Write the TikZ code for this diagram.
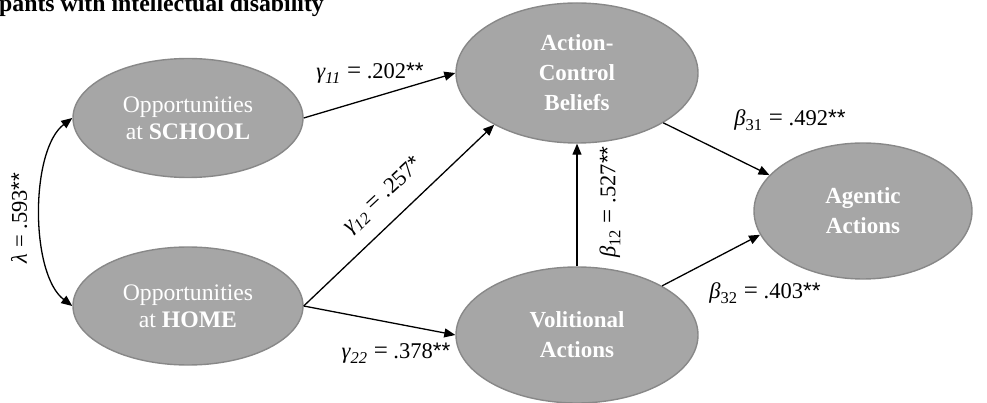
\documentclass[tikz,border=0pt]{standalone}
\usepackage{fontspec}
\setmainfont{Liberation Serif}
\setsansfont{Liberation Sans}
\usetikzlibrary{shapes.geometric,arrows.meta}
\definecolor{ellfill}{HTML}{A6A6A6}
\definecolor{elldraw}{HTML}{888888}
\tikzset{
  latent/.style={ellipse, draw=elldraw, fill=ellfill, line width=1.4pt, inner sep=0pt,
    text=white, align=center, font=\fontsize{23.7}{27}\selectfont},
  latentb/.style={latent, font=\fontsize{23}{30}\selectfont\bfseries},
  path/.style={line width=1.3pt, -{Triangle[length=11pt,width=9pt]}},
  coef/.style={font=\fontsize{22.5}{24}\selectfont, inner sep=1pt}
}
\newcommand{\coefl}[4]{{\itshape #1}\raisebox{-0.22em}{\fontsize{16.5}{16}\selectfont #2}\hspace{0.3em}{\fontsize{25}{24}\selectfont =}\hspace{0.25em}#3{\sffamily #4}}
\begin{document}
\begin{tikzpicture}[x=1pt,y=-1pt]
\useasboundingbox (0,0) rectangle (987,403);
\node[anchor=base west, inner sep=0pt, font=\fontsize{23.8}{26}\selectfont\bfseries] (title) at (-1,12) {pants with intellectual disability};

\node[latent, minimum width=230pt, minimum height=119pt] (school) at (188,118) {Opportunities\\at \textbf{SCHOOL}};
\node[latent, minimum width=230pt, minimum height=118pt] (home) at (188,306) {Opportunities\\at \textbf{HOME}};
\node[latentb, minimum width=242pt, minimum height=140pt] (acb) at (577,73) {Action-\\Control\\Beliefs};
\node[latentb, minimum width=242pt, minimum height=136pt] (vol) at (577,335) {Volitional\\Actions};
\node[latentb, minimum width=218pt, minimum height=136pt] (agent) at (863,211) {Agentic\\Actions};

\draw[path] (school.east) -- (acb.west);
\draw[path] (home.east) -- (acb.212);
\draw[path] (home.east) -- (vol.west);
\draw[path] (vol.north) -- (acb.south);
\draw[path] (acb.-30) -- (agent.159);
\draw[path] (vol.30) -- (agent.193);
\draw[line width=1.3pt, {Triangle[length=11pt,width=9pt]}-{Triangle[length=11pt,width=9pt]}]
  (school.west) .. controls (30,150) and (30,274) .. (home.west);

\node[coef] (g11) at (370,73) {\coefl{γ}{\itshape 11}{.202}{**}};
\node[coef, rotate=43] (g12) at (383,196) {\coefl{γ}{\itshape 12}{.257}{*}};
\node[coef] (g22) at (396,353) {\coefl{γ}{\itshape 22}{.378}{**}};
\node[coef, rotate=90] (lam) at (19,218) {{\itshape λ}\hspace{0.25em}=\hspace{0.25em}.593{\sffamily **}};
\node[coef, rotate=90] (b12) at (610,202) {\coefl{β}{12}{.527}{**}};
\node[coef] (b31) at (790,120) {\coefl{β}{31}{.492}{**}};
\node[coef] (b32) at (765,293) {\coefl{β}{32}{.403}{**}};
\end{tikzpicture}
\end{document}
